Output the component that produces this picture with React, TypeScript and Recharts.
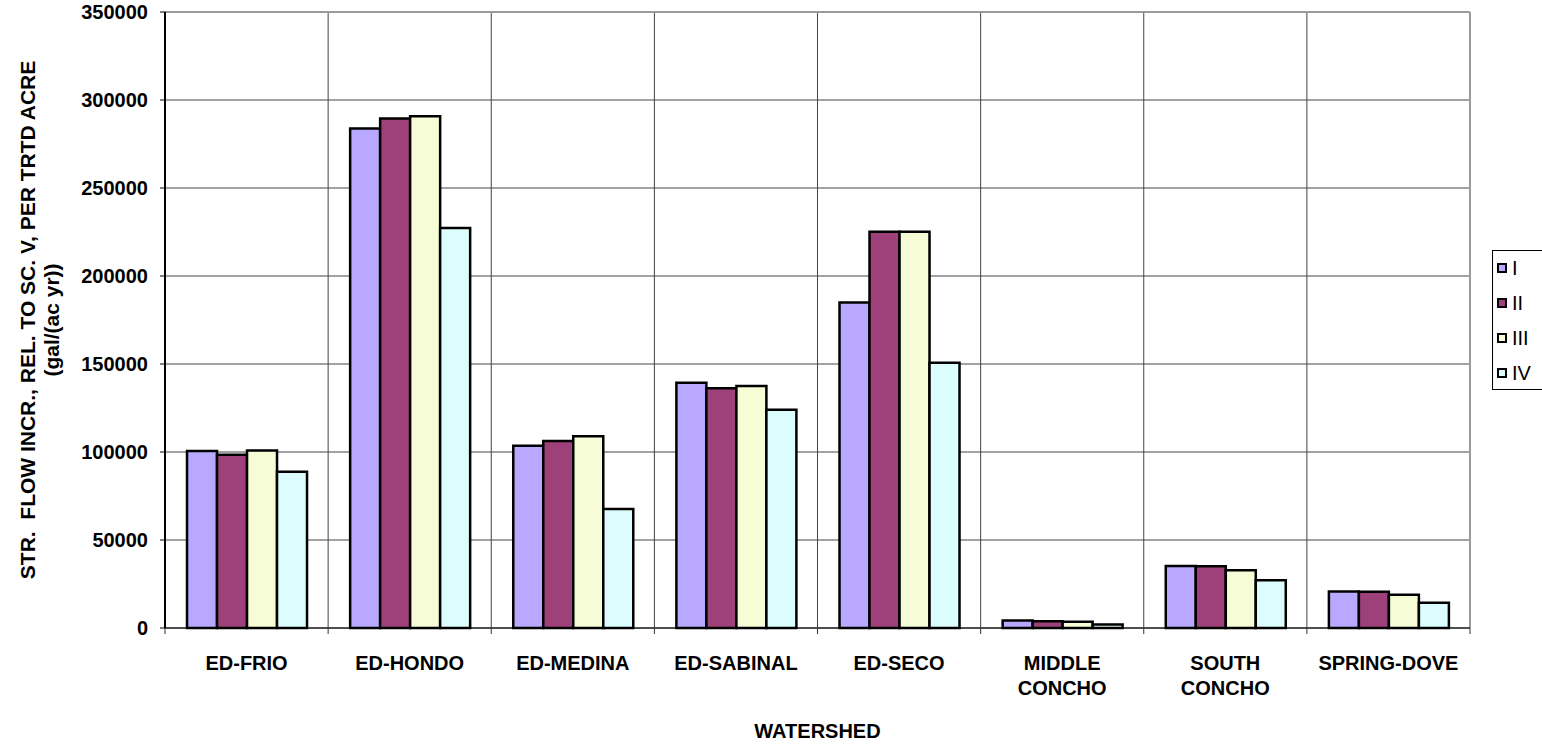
import React from 'react';
import { BarChart, Bar, XAxis, YAxis, CartesianGrid, Customized, usePlotArea } from 'recharts';

const categories = ['ED-FRIO', 'ED-HONDO', 'ED-MEDINA', 'ED-SABINAL', 'ED-SECO', 'MIDDLE\nCONCHO', 'SOUTH\nCONCHO', 'SPRING-DOVE'];
const seriesNames = ['I', 'II', 'III', 'IV'];
const valuesI = [100500, 283800, 103500, 139300, 185000, 4300, 35200, 20800];
const valuesII = [98500, 289500, 106300, 136200, 225100, 3900, 35100, 20600];
const valuesIII = [100800, 290800, 108900, 137500, 225100, 3500, 32800, 18900];
const valuesIV = [88800, 227300, 67600, 124000, 150700, 2000, 27100, 14400];
const yTicks = [0, 50000, 100000, 150000, 200000, 250000, 300000, 350000];
const yLabelLines = ['STR.  FLOW INCR., REL. TO SC. V, PER TRTD ACRE', '(gal/(ac yr))'];
const xTitle = 'WATERSHED';

const colors = ['#B8A8FF', '#9E4079', '#F6FDD6', '#DCFDFD'];
const FONT = '"Liberation Sans", Arial, sans-serif';

const seriesValues = [valuesI, valuesII, valuesIII, valuesIV];
const data = categories.map((c, i) => {
  const row: Record<string, string | number> = { name: c };
  seriesNames.forEach((s, k) => { row[s] = seriesValues[k][i]; });
  return row;
});

const XTick = (props: any) => {
  const { x, y, payload } = props;
  const lines = String(payload.value).split('\n');
  return (
    <text x={x} y={y} textAnchor="middle" fontFamily={FONT} fontWeight="bold" fontSize={20} fill="#000">
      {lines.map((l, i) => (
        <tspan key={i} x={x} dy={i === 0 ? 34 : 25}>{l}</tspan>
      ))}
    </text>
  );
};

const Overlay = () => {
  const area = usePlotArea();
  if (!area) return null;
  const { x, y, width, height } = area;
  const n = categories.length;
  const ticks = Array.from({ length: n + 1 }, (_, i) => x + (i * width) / n);
  const cx = x + width / 2;
  const cy = y + height / 2;
  return (
    <g>
      <line x1={x} y1={y} x2={x + width} y2={y} stroke="#9a9a9a" strokeWidth={2} />
      <line x1={x + width} y1={y} x2={x + width} y2={y + height} stroke="#9a9a9a" strokeWidth={2} />
      <line x1={x} y1={y + height} x2={x + width} y2={y + height} stroke="#333" strokeWidth={1.5} />
      {ticks.map((t, i) => (
        <line key={i} x1={t} y1={y + height} x2={t} y2={y + height + 6} stroke="#333" strokeWidth={1} />
      ))}
      <text x={cx} y={731} textAnchor="middle" dominantBaseline="central" fontFamily={FONT} fontWeight="bold" fontSize={20} fill="#000">{xTitle}</text>
      {yLabelLines.map((l, i) => {
        const lx = 27 + i * 24;
        return (
          <text key={i} x={lx} y={cy} transform={`rotate(-90 ${lx} ${cy})`} textAnchor="middle" dominantBaseline="central" fontFamily={FONT} fontWeight="bold" fontSize={21} fill="#000" style={{ whiteSpace: 'pre' }} xmlSpace="preserve">{l}</text>
        );
      })}
    </g>
  );
};

const LegendBox = () => (
  <div style={{ position: 'absolute', left: 1492, top: 250, width: 70, height: 140, border: '1px solid #000', background: '#fff', boxSizing: 'border-box' }}>
    {seriesNames.map((s, i) => (
      <div key={s} style={{ position: 'absolute', left: 4, top: 10 + i * 35, height: 14, display: 'flex', alignItems: 'center' }}>
        <div style={{ width: 10, height: 10, background: colors[i], border: '2px solid #000', boxSizing: 'border-box' }} />
        <span style={{ marginLeft: 5, fontFamily: FONT, fontSize: 20, color: '#000', lineHeight: '14px' }}>{s}</span>
      </div>
    ))}
  </div>
);

export default function App() {
  return (
    <div style={{ position: 'absolute', left: 0, top: 0, width: 1542, height: 744, overflow: 'hidden', background: '#fff' }}>
      <BarChart width={1542} height={744} data={data} margin={{ top: 12, right: 72, left: 0, bottom: 0 }} barCategoryGap="13.5%" barGap={0}>
        <CartesianGrid
          stroke="#444"
          verticalCoordinatesGenerator={({ offset }: any) =>
            Array.from({ length: categories.length + 1 }, (_, i) => offset.left + (i * offset.width) / categories.length)
          }
          verticalFill={[]}
          horizontalFill={[]}
        />
        <XAxis dataKey="name" height={116} tick={<XTick />} tickLine={false} axisLine={false} interval={0} />
        <YAxis
          width={165}
          domain={[0, 350000]}
          ticks={yTicks}
          interval={0}
          tickSize={5}
          tickMargin={12}
          stroke="#000"
          axisLine={{ stroke: '#000', strokeWidth: 2 }}
          tickLine={{ stroke: '#000' }}
          tick={{ fontFamily: FONT, fontWeight: 'bold', fontSize: 20, fill: '#000' }}
        />
        {seriesNames.map((s, i) => (
          <Bar key={s} dataKey={s} fill={colors[i]} stroke="#000" strokeWidth={2.5} isAnimationActive={false} />
        ))}
        <Customized component={<Overlay />} />
      </BarChart>
      <LegendBox />
    </div>
  );
}
